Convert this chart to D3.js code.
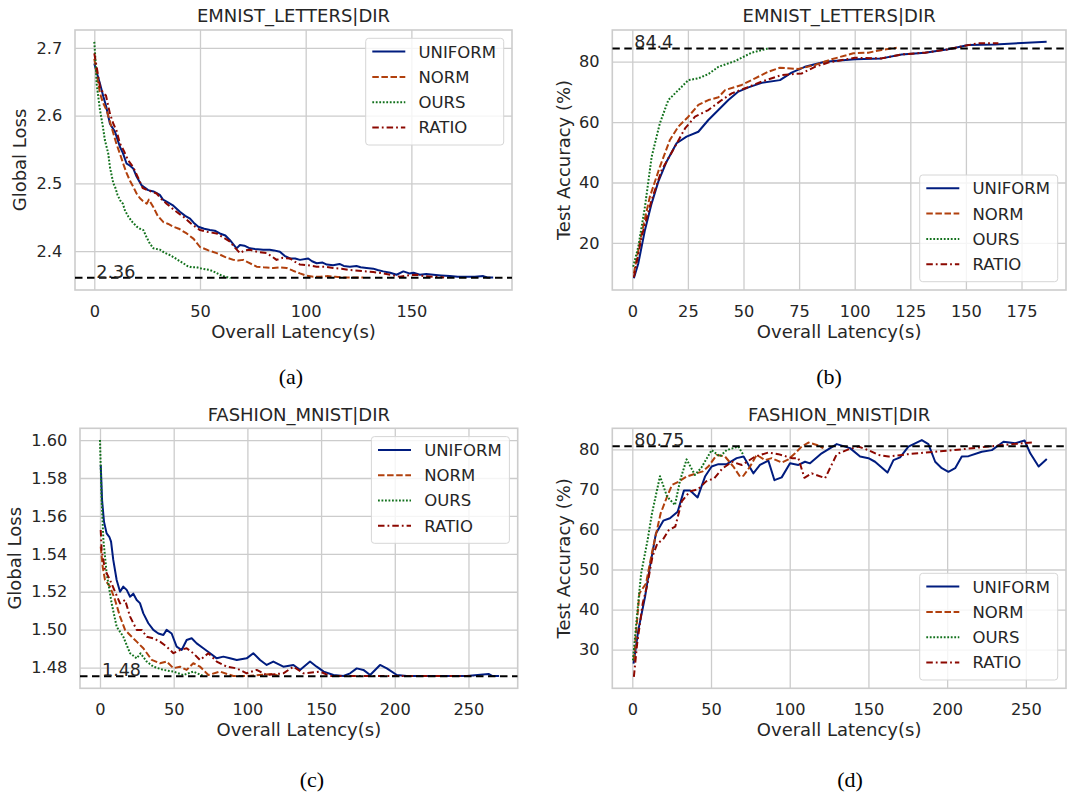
<!DOCTYPE html>
<html>
<head>
<meta charset="utf-8">
<script src="https://cdn.jsdelivr.net/npm/d3@7"></script>
<style>
  body { margin: 0; background: #fff; }
  svg { display: block; }
</style>
</head>
<body>
<svg id="chart"></svg>
<script>
const methods = ['UNIFORM', 'NORM', 'OURS', 'RATIO'];
const colors = ['#001c7f', '#b1400d', '#12711c', '#8c0800'];
const dashes = [null, '6.5,2.6', '1.8,1.7', '6.5,3,1.8,3'];

const titles = ['EMNIST_LETTERS|DIR', 'EMNIST_LETTERS|DIR', 'FASHION_MNIST|DIR', 'FASHION_MNIST|DIR'];
const yLabels = ['Global Loss', 'Test Accuracy (%)', 'Global Loss', 'Test Accuracy (%)'];
const captions = ['(a)', '(b)', '(c)', '(d)'];
const thresholds = [2.3605, 84.4, 1.4755, 80.75];
const thresholdLabels = ['2.36', '84.4', '1.48', '80.75'];

const ticksA = { x: [0, 50, 100, 150], y: [2.4, 2.5, 2.6, 2.7] };
const ticksB = { x: [0, 25, 50, 75, 100, 125, 150, 175], y: [20, 40, 60, 80] };
const ticksC = { x: [0, 50, 100, 150, 200, 250], y: [1.48, 1.50, 1.52, 1.54, 1.56, 1.58, 1.60] };
const ticksD = { x: [0, 50, 100, 150, 200, 250], y: [30, 40, 50, 60, 70, 80] };

// (a) EMNIST_LETTERS loss
const emnistLossUniform = [[0,2.677],[1.5,2.66],[2.7,2.647],[4.3,2.628],[5.5,2.615],[7.4,2.588],[9.8,2.576],[12.1,2.554],[13.5,2.545],[15.3,2.529],[16.5,2.527],[18.4,2.522],[20,2.51],[22.4,2.497],[25.5,2.49],[28,2.488],[31,2.483],[32.5,2.476],[34.2,2.473],[37,2.468],[40.5,2.458],[43,2.452],[45.3,2.448],[47,2.442],[49.2,2.436],[52,2.433],[54.7,2.431],[57,2.43],[59.4,2.426],[62,2.423],[64.2,2.416],[67.3,2.404],[68.9,2.409],[71,2.408],[73.6,2.404],[76,2.403],[79.9,2.402],[83,2.402],[85,2.401],[87.8,2.399],[90,2.393],[92.6,2.389],[95,2.389],[97.3,2.387],[101.2,2.389],[103,2.385],[105.2,2.382],[108,2.383],[110,2.38],[113,2.379],[116,2.381],[118,2.378],[120.9,2.377],[124,2.378],[126,2.376],[128.8,2.375],[132,2.374],[134,2.372],[136.7,2.37],[140,2.368],[143,2.365],[146.2,2.37],[149,2.367],[151,2.368],[154,2.365],[157,2.366],[160.4,2.365],[164,2.364],[168.2,2.363],[172,2.362],[176.1,2.362],[180,2.362],[184,2.363],[186,2.361],[188.7,2.361]];
const emnistLossNorm = [[0,2.684],[1.5,2.655],[2.7,2.633],[4,2.62],[5.8,2.608],[7.5,2.59],[9,2.574],[10.5,2.558],[12.1,2.544],[13.8,2.528],[15.3,2.515],[17,2.503],[18.4,2.495],[20,2.485],[21.6,2.478],[23,2.474],[24.8,2.47],[25.8,2.476],[27.9,2.465],[30,2.452],[32.6,2.443],[35,2.44],[37.4,2.436],[40,2.433],[43.7,2.426],[47,2.418],[50,2.406],[54,2.401],[57.9,2.397],[62,2.391],[65.8,2.387],[68,2.386],[70.5,2.387],[73,2.383],[76.8,2.377],[80,2.376],[84.7,2.375],[88,2.376],[91,2.375],[94,2.371],[97.3,2.367],[100,2.364],[103.6,2.362],[107,2.362],[110,2.363],[114,2.362],[117.8,2.361],[122,2.361],[127.2,2.361]];
const emnistLossOurs = [[0,2.709],[0.6,2.68],[1.1,2.647],[2,2.625],[2.7,2.608],[4,2.585],[5,2.564],[6.6,2.544],[7.4,2.524],[9,2.5],[9.8,2.495],[11,2.483],[12.2,2.475],[13.5,2.47],[14.5,2.46],[16.1,2.451],[18,2.443],[20.1,2.436],[21.6,2.433],[23.2,2.431],[24.8,2.42],[26.3,2.411],[28,2.404],[31.1,2.402],[33,2.398],[35.8,2.394],[38,2.39],[40.5,2.385],[42.1,2.382],[44,2.378],[46,2.376],[48.4,2.376],[51,2.374],[54.7,2.372],[57,2.369],[59.4,2.365],[62,2.362],[64.5,2.36]];
const emnistLossRatio = [[0,2.692],[1.5,2.665],[2.7,2.642],[4.5,2.632],[5.5,2.63],[7.4,2.603],[9,2.588],[10.5,2.578],[12.1,2.559],[14,2.548],[16,2.534],[18.4,2.524],[20.5,2.51],[22.9,2.493],[26,2.489],[29.5,2.485],[32,2.476],[34.2,2.47],[38,2.46],[42,2.451],[46,2.44],[50,2.431],[54,2.428],[57.9,2.426],[61,2.42],[64.2,2.414],[66.5,2.405],[68.9,2.397],[71,2.401],[73.6,2.402],[77,2.399],[81.5,2.397],[84,2.392],[86.2,2.387],[89,2.39],[92.6,2.389],[95,2.384],[97.3,2.38],[101,2.379],[105.2,2.377],[109,2.377],[113,2.375],[117,2.374],[121,2.372],[125,2.371],[128.8,2.37],[132,2.369],[136.7,2.367],[140,2.365],[144.6,2.362],[148,2.364],[152.5,2.365],[156,2.363],[160.4,2.362],[163,2.362],[165.5,2.361]];

// (b) EMNIST_LETTERS accuracy
const emnistAccUniform = [[0.7,8.3],[2.7,13.2],[5.7,24.3],[8.7,33.1],[11.7,40.3],[15.4,46.9],[19.9,53],[24.4,55.2],[29.7,56.8],[34.2,60.7],[38.7,64],[43.2,67.3],[47.7,70.1],[52.2,71.5],[58.2,73],[66.4,73.9],[71.6,76.4],[77.6,78.3],[86.6,80],[100.1,80.8],[112.1,81.1],[121.1,82.4],[131.6,83],[142.1,84.1],[151.1,85.5],[163.1,85.7],[175.1,86.2],[186.3,86.6]];
const emnistAccNorm = [[0.7,9.9],[4.2,23.2],[7.9,35.3],[12.4,45.2],[16.9,54.1],[20.7,58.5],[25.2,61.8],[29.7,65.7],[34.2,67.3],[38.7,68.2],[41.7,70.6],[49.2,72.3],[55.2,74.5],[61.2,76.7],[66.4,78],[74.6,77.6],[82.1,78.9],[89.6,80.8],[99.4,82.8],[106.1,83],[112.1,83.9],[118.9,84.6]];
const emnistAccOurs = [[0.4,12.1],[2.7,18.7],[5.7,32],[8.7,48.5],[12.4,59.6],[16.2,67.3],[20.7,70.6],[25.2,73.9],[29.7,74.5],[34.2,75.9],[38.7,78.3],[46.2,80.2],[53.7,83],[61.2,84.4]];
const emnistAccRatio = [[0.7,8.6],[4.2,22.1],[8.7,34.2],[13.2,44.1],[19.2,51.9],[23.7,57.9],[28.2,61.8],[34.2,64],[40.2,67.3],[44.7,69.5],[50.7,71.2],[58.2,73.4],[67.1,75.6],[76.1,76.1],[82.1,78.3],[88.1,79.7],[100.1,81.3],[112.1,81.1],[121.1,82.4],[131.6,83],[142.1,84.1],[149.6,85.3],[155.6,86.1],[164.6,86.1]];

// (c) FASHION_MNIST loss
const fashionLossUniform = [[0.5,1.5868],[1.4,1.5684],[2.7,1.557],[4.5,1.5508],[6.3,1.549],[7.5,1.5464],[9,1.5368],[11.3,1.5262],[13.6,1.52],[15.8,1.5227],[18.1,1.521],[20.4,1.5174],[22.6,1.519],[24.9,1.5157],[27.1,1.514],[29.4,1.5086],[32.8,1.5034],[36.2,1.4999],[39.6,1.498],[43,1.4972],[45.2,1.4999],[48.6,1.498],[52,1.4911],[55.4,1.4893],[58.8,1.4946],[62.2,1.4955],[65.6,1.4928],[70.1,1.4902],[74.7,1.4876],[79.2,1.4849],[83.7,1.4858],[88.2,1.4849],[92.8,1.484],[99.5,1.4849],[104,1.4876],[108.6,1.484],[113.1,1.4814],[117.6,1.4832],[124.4,1.4805],[131.2,1.4814],[135.7,1.4788],[142.5,1.4832],[147,1.4805],[151.8,1.4779],[158.4,1.4761],[165.2,1.4756],[169.7,1.477],[174.2,1.4796],[178.7,1.4788],[183.3,1.4761],[190,1.4814],[194.6,1.4796],[201.4,1.4761],[208.1,1.4756],[226.2,1.4756],[248.9,1.4756],[263.6,1.4767],[266,1.4756],[270.8,1.4756]];
const fashionLossNorm = [[0.5,1.5438],[1.8,1.5332],[3.4,1.5262],[6.8,1.5227],[10.2,1.5157],[13.6,1.5069],[17,1.4999],[21.5,1.4963],[24.9,1.4937],[29.4,1.4902],[35.1,1.4841],[40.7,1.4823],[45.2,1.4832],[49.8,1.4797],[54.3,1.4805],[58.8,1.4788],[63.3,1.4823],[67.9,1.4805],[73.5,1.4761],[81.4,1.4779],[90.5,1.4756],[99.5,1.4756],[110,1.4762],[117.6,1.4767],[121,1.4756]];
const fashionLossOurs = [[0,1.6],[1.1,1.5684],[2.3,1.5473],[4.5,1.5297],[7.9,1.5139],[11.3,1.5016],[15.8,1.4963],[20.4,1.4876],[24.9,1.4849],[27.5,1.4875],[31.7,1.4832],[36.2,1.4805],[43,1.4788],[49.8,1.4779],[56.6,1.4761],[63.3,1.4779],[70.1,1.4756]];
const fashionLossRatio = [[0.5,1.5526],[1.1,1.542],[3.4,1.5315],[6.8,1.5262],[10.2,1.52],[13.6,1.5139],[17,1.5157],[20.4,1.5069],[24.9,1.4999],[28.3,1.4999],[31.7,1.4963],[36.2,1.4955],[40.7,1.4937],[45.2,1.4911],[49.8,1.4876],[54.3,1.4893],[58.8,1.4902],[63.3,1.4876],[67.9,1.484],[73.5,1.4876],[79.2,1.4832],[86,1.4805],[92.8,1.4796],[99.5,1.477],[106.3,1.4788],[113.1,1.4761],[124.4,1.477],[131.2,1.4805],[138,1.477],[149.3,1.4779],[156.1,1.4756],[181,1.4756],[203.6,1.4756],[226.2,1.4756],[253.4,1.4756]];

// (d) FASHION_MNIST accuracy
const fashionAccUniform = [[0.8,26.5],[3.8,34.8],[8.1,43.2],[11.2,50.7],[15,59],[19.7,62.2],[23.9,62.8],[28.8,64.4],[32.8,69.7],[36.7,69.7],[41.5,68],[46.2,73.2],[50.4,75.7],[54.7,76.3],[60,76.3],[66.3,77.8],[70.7,78.2],[76.9,74],[81.1,76.1],[86.4,77.2],[90.3,72.3],[94.9,73],[100.2,76.5],[105.5,76.1],[109.7,76.9],[112.9,76.5],[120.3,79],[129.9,81.3],[138.3,80.3],[144.7,78.2],[150,77.8],[154.2,76.9],[162.1,74.2],[165.9,77.3],[170.1,78],[175.4,80.7],[183.9,82.3],[188.1,81.3],[192.4,76.9],[196.6,75.3],[200.8,74.4],[205.1,75.3],[209.3,78.2],[213.6,78.3],[222,79.4],[228.4,79.8],[235.8,81.9],[243.2,81.5],[249.2,82.2],[252.8,79],[258.1,75.7],[263.3,77.6]];
const fashionAccNorm = [[1,27.3],[2.5,34.8],[4.5,44],[8.7,46.5],[12.8,54.8],[18,64],[22.1,68.2],[25.2,71.1],[29.3,71.9],[34.5,73.2],[40.7,74],[44.8,74.5],[48.3,75.7],[53.6,78.6],[58.9,78.2],[64.2,75.7],[68.4,73.2],[70.6,73.4],[74.8,75.7],[79,78.6],[84.3,77.3],[88.6,77.8],[94.9,76.7],[99.2,77.5],[103.4,79],[107.6,80.7],[111.9,81.7],[117.2,81.1],[121.4,80.3]];
const fashionAccOurs = [[0.4,27.3],[2.5,36.5],[5.6,49],[9.7,57.3],[12.5,64],[17.6,73.3],[22.1,68.2],[27.1,66.1],[30.4,72.3],[34.5,77.5],[39.8,73.6],[44,75.5],[50.4,79.8],[55.7,78.2],[59.9,79.8],[67.4,80.7],[70.6,78.6]];
const fashionAccRatio = [[1,23.2],[3.1,31.5],[6.6,41.5],[9.7,46.5],[12.8,53.2],[15.9,56.5],[19.5,57.5],[23.1,59.8],[27.3,60.7],[31.4,67],[36.6,69.5],[41.7,70],[46.9,72],[52.1,72.8],[57.2,75.2],[63.4,76.9],[69.6,76.1],[78,78.2],[86.4,79.2],[92.8,78.8],[101.3,77.8],[105.5,77.8],[109.3,72.9],[114,74],[122.5,72.8],[129.9,78.8],[137.3,80],[143.6,80.7],[150,79.8],[156.4,78.6],[162.7,78.2],[175.4,78.8],[192.4,79.4],[209.3,80],[226.3,80.7],[241.1,81.3],[253.8,81.7]];

const width = 1069, height = 796;
const textColor = '#262626';
const gridColor = '#cccccc';

const svg = d3.select('#chart').attr('width', width).attr('height', height);

const panels = [
  { box: [75, 30, 512, 290], xDomain: [-9.13, 197.6], yDomain: [2.3425, 2.7265], ticks: ticksA, yFmt: d3.format('.1f'),
    series: [emnistLossUniform, emnistLossNorm, emnistLossOurs, emnistLossRatio], legend: 'top', yLabelX: 20, captionX: 291, captionY: 384 },
  { box: [612.3, 30, 1066, 290], xDomain: [-8.99, 195.0], yDomain: [4.4, 90.5], ticks: ticksB, yFmt: d3.format('d'),
    series: [emnistAccUniform, emnistAccNorm, emnistAccOurs, emnistAccRatio], legend: 'bottom', yLabelX: 563.3, captionX: 829, captionY: 384 },
  { box: [80, 428.3, 517.7, 688.3], xDomain: [-13.57, 283.4], yDomain: [1.4691, 1.6062], ticks: ticksC, yFmt: d3.format('.2f'),
    series: [fashionLossUniform, fashionLossNorm, fashionLossOurs, fashionLossRatio], legend: 'top', yLabelX: 15, captionX: 312, captionY: 787 },
  { box: [612.3, 428.3, 1066, 688.3], xDomain: [-12.7, 275.5], yDomain: [20.35, 85.25], ticks: ticksD, yFmt: d3.format('d'),
    series: [fashionAccUniform, fashionAccNorm, fashionAccOurs, fashionAccRatio], legend: 'bottom', yLabelX: 563.3, captionX: 850, captionY: 787 },
];

panels.forEach((p, i) => {
  const [left, top, right, bottom] = p.box;
  const g = svg.append('g');
  const x = d3.scaleLinear().domain(p.xDomain).range([left, right]);
  const y = d3.scaleLinear().domain(p.yDomain).range([bottom, top]);

  const clipId = `clip${i}`;
  g.append('clipPath').attr('id', clipId)
    .append('rect').attr('x', left).attr('y', top).attr('width', right - left).attr('height', bottom - top);

  // grid + tick labels
  const xAxis = g.append('g')
    .attr('transform', `translate(0, ${bottom})`)
    .call(d3.axisBottom(x).tickValues(p.ticks.x).tickSize(-(bottom - top)).tickPadding(15).tickFormat(d3.format('d')));
  const yAxis = g.append('g')
    .attr('transform', `translate(${left}, 0)`)
    .call(d3.axisLeft(y).tickValues(p.ticks.y).tickSize(-(right - left)).tickPadding(12.7).tickFormat(p.yFmt));
  [xAxis, yAxis].forEach((ax) => {
    ax.select('.domain').remove();
    ax.selectAll('.tick line').attr('stroke', gridColor).attr('stroke-width', 1.3);
    ax.selectAll('.tick text')
      .attr('fill', textColor)
      .style('font-family', 'DejaVu Sans')
      .style('font-size', '16.2px');
  });

  // frame
  g.append('rect')
    .attr('x', left).attr('y', top).attr('width', right - left).attr('height', bottom - top)
    .attr('fill', 'none').attr('stroke', gridColor).attr('stroke-width', 1.6);

  // series
  const line = d3.line().x((d) => x(d[0])).y((d) => y(d[1]));
  const plot = g.append('g').attr('clip-path', `url(#${clipId})`);
  p.series.forEach((s, k) => {
    plot.append('path')
      .datum(s)
      .attr('d', line)
      .attr('fill', 'none')
      .attr('stroke', colors[k])
      .attr('stroke-width', 2)
      .attr('stroke-dasharray', dashes[k])
      .attr('stroke-linejoin', 'round');
  });

  // threshold
  plot.append('line')
    .attr('x1', left).attr('x2', right)
    .attr('y1', y(thresholds[i])).attr('y2', y(thresholds[i]))
    .attr('stroke', '#000').attr('stroke-width', 2).attr('stroke-dasharray', '7.5,4.5');
  g.append('text')
    .attr('x', x(0) + 2)
    .attr('y', y(thresholds[i]))
    .attr('fill', textColor)
    .style('font-family', 'DejaVu Sans')
    .style('font-size', '17.5px')
    .text(thresholdLabels[i]);

  // title and labels
  g.append('text')
    .attr('x', (left + right) / 2).attr('y', top - 7.7)
    .attr('text-anchor', 'middle').attr('fill', textColor)
    .style('font-family', 'DejaVu Sans').style('font-size', '18px')
    .text(titles[i]);
  g.append('text')
    .attr('x', (left + right) / 2).attr('y', bottom + 48)
    .attr('text-anchor', 'middle').attr('fill', textColor)
    .style('font-family', 'DejaVu Sans').style('font-size', '18px')
    .text('Overall Latency(s)');
  g.append('text')
    .attr('transform', `translate(${p.yLabelX}, ${(top + bottom) / 2}) rotate(-90)`)
    .attr('dy', '0.35em')
    .attr('text-anchor', 'middle').attr('fill', textColor)
    .style('font-family', 'DejaVu Sans').style('font-size', '18px')
    .text(yLabels[i]);

  // legend
  const legW = 138, legH = 106.7, pad = 8.3;
  const legX = right - pad - legW;
  const legY = p.legend === 'top' ? top + pad : bottom - pad - legH;
  const leg = g.append('g').attr('transform', `translate(${legX}, ${legY})`);
  leg.append('rect')
    .attr('width', legW).attr('height', legH).attr('rx', 3)
    .attr('fill', '#fff').attr('fill-opacity', 0.8)
    .attr('stroke', '#d6d6d6').attr('stroke-width', 1);
  methods.forEach((m, k) => {
    const ry = 13.3 + k * 25.3;
    leg.append('line')
      .attr('x1', 6.6).attr('x2', 39.6).attr('y1', ry).attr('y2', ry)
      .attr('stroke', colors[k]).attr('stroke-width', 2)
      .attr('stroke-dasharray', dashes[k]);
    leg.append('text')
      .attr('x', 52.8).attr('y', ry).attr('dy', '0.36em')
      .attr('fill', textColor)
      .style('font-family', 'DejaVu Sans').style('font-size', '16.5px')
      .text(m);
  });

  // caption
  svg.append('text')
    .attr('x', p.captionX).attr('y', p.captionY)
    .attr('text-anchor', 'middle').attr('fill', '#000')
    .style('font-family', 'Liberation Serif').style('font-size', '22px')
    .text(captions[i]);
});
</script>
</body>
</html>
